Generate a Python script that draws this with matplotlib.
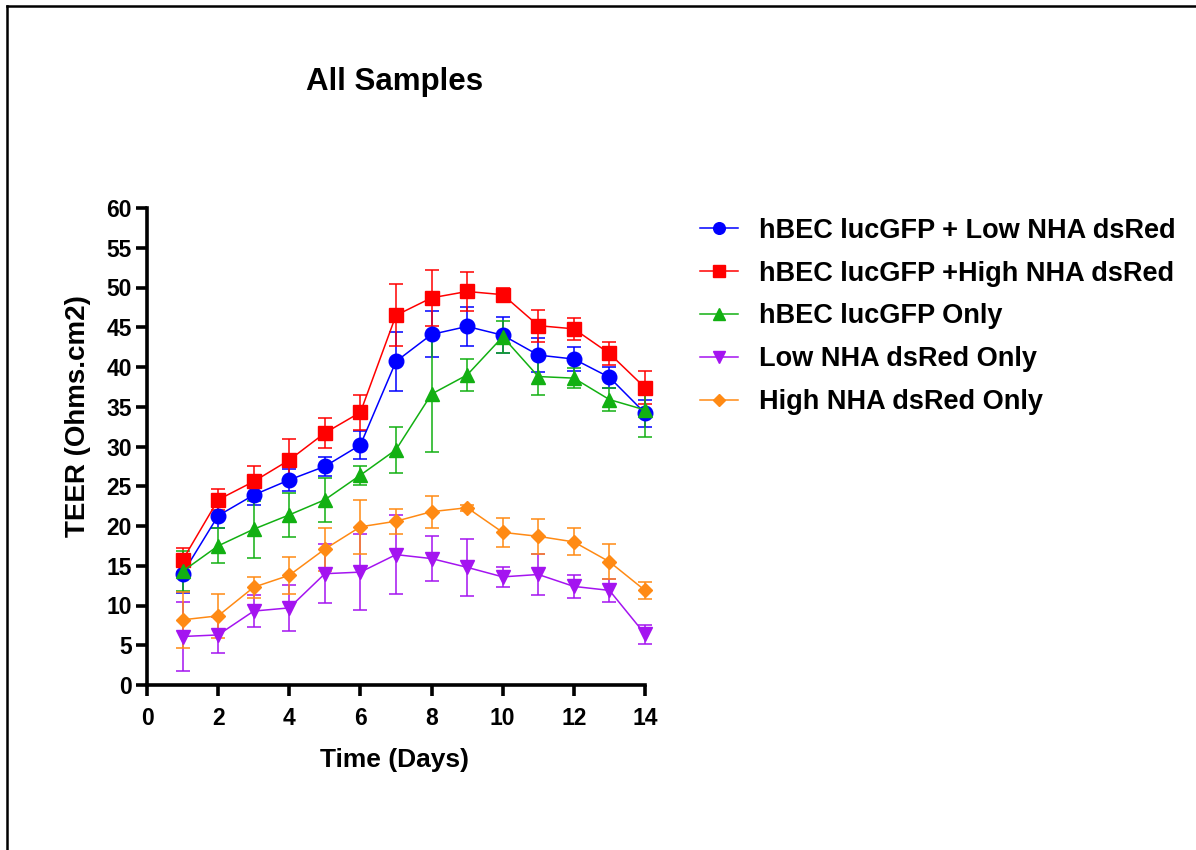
import matplotlib
matplotlib.use("Agg")
import matplotlib.pyplot as plt
from matplotlib.lines import Line2D

plt.rcParams['font.family'] = ['Liberation Sans', 'DejaVu Sans']
plt.rcParams['font.weight'] = 'bold'

days = [1, 2, 3, 4, 5, 6, 7, 8, 9, 10, 11, 12, 13, 14]

labels = [
    "hBEC lucGFP + Low NHA dsRed",
    "hBEC lucGFP +High NHA dsRed",
    "hBEC lucGFP Only",
    "Low NHA dsRed Only",
    "High NHA dsRed Only",
]

blue_mean = [14.0, 21.3, 23.9, 25.8, 27.5, 30.2, 40.7, 44.1, 45.1, 44.0, 41.5, 41.0, 38.7, 34.2]
blue_err = [2.4, 1.6, 1.3, 1.4, 1.2, 1.8, 3.7, 2.9, 2.4, 2.3, 2.1, 1.5, 1.3, 1.7]

red_mean = [15.7, 23.3, 25.6, 28.3, 31.7, 34.3, 46.5, 48.7, 49.5, 49.1, 45.2, 44.8, 41.7, 37.4]
red_err = [1.5, 1.3, 1.9, 2.6, 1.9, 2.2, 3.9, 3.5, 2.4, 0.8, 2.0, 1.4, 1.4, 2.1]

green_mean = [14.3, 17.5, 19.6, 21.4, 23.3, 26.4, 29.6, 36.6, 39.0, 43.8, 38.8, 38.6, 35.9, 34.6]
green_err = [2.5, 2.2, 3.6, 2.8, 2.8, 1.2, 2.9, 7.3, 2.0, 2.0, 2.3, 1.3, 1.4, 3.4]

purple_mean = [6.1, 6.3, 9.3, 9.7, 14.0, 14.2, 16.4, 15.9, 14.8, 13.6, 13.9, 12.4, 11.9, 6.4]
purple_err = [4.3, 2.3, 2.0, 2.9, 3.7, 4.8, 5.0, 2.8, 3.6, 1.3, 2.6, 1.4, 1.4, 1.2]

orange_mean = [8.2, 8.7, 12.3, 13.8, 17.1, 19.9, 20.6, 21.8, 22.3, 19.2, 18.7, 18.0, 15.5, 11.9]
orange_err = [3.5, 2.8, 1.3, 2.3, 2.7, 3.4, 1.6, 2.0, 0.4, 1.8, 2.2, 1.7, 2.2, 1.1]

means = [blue_mean, red_mean, green_mean, purple_mean, orange_mean]
errs = [blue_err, red_err, green_err, purple_err, orange_err]
colors = ['#0000FF', '#FF0000', '#12B012', '#A414F0', '#FF8A14']
markers = ['o', 's', '^', 'v', 'D']
msizes = [10.5, 10.5, 10, 10.5, 7.5]

W, H = 1196, 850
fig = plt.figure(figsize=(W / 100, H / 100), dpi=100)
ax = fig.add_axes([147 / W, 1 - 685 / H, (645 - 147) / W, (685 - 208) / H])

handles = []
for m, e, c, mk, ms, lab in zip(means, errs, colors, markers, msizes, labels):
    cont = ax.errorbar(days, m, yerr=e, color=c, marker=mk, markersize=ms, lw=1.1,
                       elinewidth=1.1, capsize=5, capthick=1.1, label=lab, clip_on=False)
    handles.append(cont[0])

ax.set_xlim(0, 14)
ax.set_ylim(0, 60)
ax.set_xticks(range(0, 15, 2))
ax.set_yticks(range(0, 61, 5))
for s in ['top', 'right']:
    ax.spines[s].set_visible(False)
for s in ['left', 'bottom']:
    ax.spines[s].set_linewidth(2.6)
ax.tick_params(axis='both', direction='out', length=8, width=2.6, labelsize=16.5)
ax.tick_params(axis='x', pad=8)
ax.tick_params(axis='y', pad=3)
for t in ax.get_xticklabels() + ax.get_yticklabels():
    t.set_fontweight('bold')

fig.text(395 / W, 1 - 82 / H, "All Samples", ha='center', va='center', fontsize=22.5, fontweight='bold')
fig.text(78 / W, 1 - 416 / H, "TEER (Ohms.cm2)", ha='center', va='center', rotation=90,
         fontsize=20, fontweight='bold')
fig.text(395 / W, 1 - 760 / H, "Time (Days)", ha='center', va='center', fontsize=19, fontweight='bold')

leg = fig.legend(handles, labels, loc='upper left', bbox_to_anchor=(689 / W, 1 - 207 / H),
                 frameon=False, handlelength=1.4, handletextpad=0.78, borderaxespad=0,
                 labelspacing=0.62, markerscale=0.8, prop={'weight': 'bold', 'size': 19.5})

fig.add_artist(Line2D([7 / W, 1], [1 - 6 / H, 1 - 6 / H], transform=fig.transFigure, color='black', lw=1.8))
fig.add_artist(Line2D([7 / W, 7 / W], [1 - 6 / H, 0], transform=fig.transFigure, color='black', lw=1.8))

fig.savefig("out.png", dpi=100, facecolor='white')
